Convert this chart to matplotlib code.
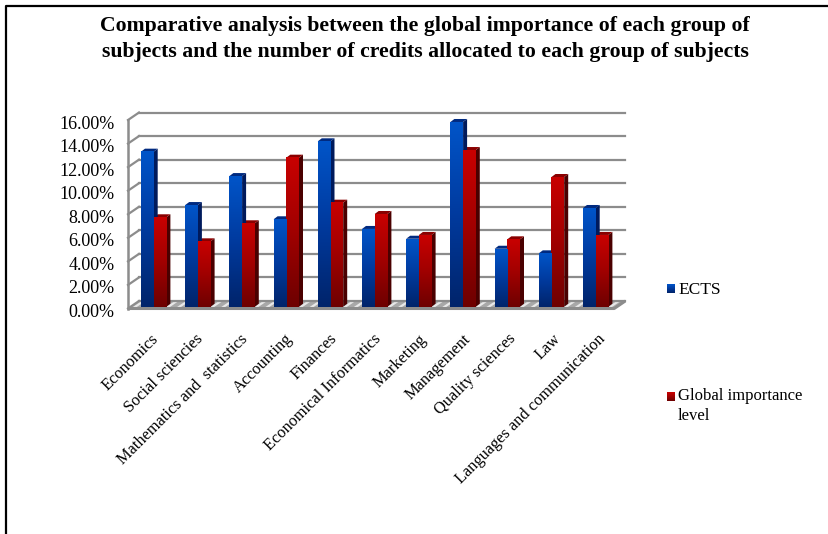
import numpy as np
import matplotlib
matplotlib.use('Agg')
import matplotlib.pyplot as plt
from matplotlib.colors import LinearSegmentedColormap
from matplotlib.patches import Polygon
from matplotlib.transforms import ScaledTranslation

categories = ['Economics', 'Social sciencies', 'Mathematics and  statistics', 'Accounting',
              'Finances', 'Economical Informatics', 'Marketing', 'Management',
              'Quality sciences', 'Law', 'Languages and communication']
ects = [13.16, 8.63, 11.09, 7.42, 14.04, 6.60, 5.77, 15.68, 4.92, 4.53, 8.38]
importance = [7.59, 5.55, 7.08, 12.65, 8.83, 7.87, 6.09, 13.30, 5.72, 11.01, 6.09]
y_ticks = [0, 2, 4, 6, 8, 10, 12, 14, 16]

plt.rcParams['font.family'] = ['Liberation Serif', 'DejaVu Serif']

W, H = 829, 534
PX_X = 44.2    # pixels per category
PX_Y = 11.78   # pixels per percent
DEPTH_X = 11 / PX_X
DEPTH_Y = 7.5 / PX_Y
BAR_W = 12.7 / PX_X
SIDE_X = 4 / PX_X
SIDE_Y = 3 / PX_Y
LIFT = 1.8 / PX_Y
GRID = '#8c8c8c'

blue_map = LinearSegmentedColormap.from_list('b', ['#00246b', '#003a9e', '#0054c8'])
red_map = LinearSegmentedColormap.from_list('r', ['#6e0000', '#a00000', '#c80000'])

fig = plt.figure(figsize=(W / 100, H / 100), dpi=100)
left = 128 / W
bottom = (H - 308.5) / H
ax = fig.add_axes([left, bottom, 11 * PX_X / W, 16 * PX_Y / H])
ax.set_xlim(-0.5, 10.5)
ax.set_ylim(0, 16)
ax.patch.set_visible(False)
for s in ax.spines.values():
    s.set_visible(False)


def draw_bar(x, val, cmap, side, top):
    y0 = LIFT
    y1 = LIFT + val
    grad = np.linspace(1, 0, 64).reshape(-1, 1)
    ax.imshow(grad, cmap=cmap, extent=[x, x + BAR_W, y0, y1], aspect='auto',
              vmin=0, vmax=1, zorder=5, interpolation='bilinear', clip_on=False)
    ax.add_patch(Polygon([(x + BAR_W, y0), (x + BAR_W + SIDE_X, y0 + SIDE_Y),
                          (x + BAR_W + SIDE_X, y1 + SIDE_Y), (x + BAR_W, y1)],
                         fc=side, ec='none', zorder=4, clip_on=False))
    ax.add_patch(Polygon([(x, y1), (x + SIDE_X, y1 + SIDE_Y),
                          (x + BAR_W + SIDE_X, y1 + SIDE_Y), (x + BAR_W, y1)],
                         fc=top, ec='none', zorder=4, clip_on=False))


def legend_swatch(px, py, cmap):
    sw = fig.add_axes([px / W, (H - py - 9) / H, 8 / W, 9 / H])
    sw.imshow(np.linspace(1, 0, 16).reshape(-1, 1), cmap=cmap, aspect='auto', vmin=0, vmax=1)
    sw.axis('off')


# floor slab with its diagonal sheen
ax.add_patch(Polygon([(-0.5, 0), (-0.5 + DEPTH_X, DEPTH_Y), (10.5 + DEPTH_X, DEPTH_Y), (10.5, 0)],
                     fc='#a8a8a8', ec='none', zorder=1, clip_on=False))
for i in range(len(categories) * 4):
    xa = -0.5 + i * 0.25 + 0.06
    ax.add_patch(Polygon([(xa, 0), (xa + DEPTH_X, DEPTH_Y), (xa + DEPTH_X + 0.09, DEPTH_Y), (xa + 0.09, 0)],
                         fc='#e8e8e8', ec='none', zorder=1, clip_on=False))
ax.plot([-0.5, 10.5, 10.5 + DEPTH_X], [0, 0, DEPTH_Y], color=GRID, lw=2.2, zorder=2,
        clip_on=False, solid_capstyle='butt')

# back wall gridlines and the left wall
for t in y_ticks:
    ax.plot([-0.5, -0.5 + DEPTH_X], [t, t + DEPTH_Y], color=GRID, lw=1.6, zorder=2, clip_on=False)
    ax.plot([-0.5 + DEPTH_X, 10.5 + DEPTH_X], [t + DEPTH_Y, t + DEPTH_Y], color=GRID, lw=1.6,
            zorder=2, clip_on=False)
ax.plot([-0.5, -0.5], [0, 16], color=GRID, lw=1.8, zorder=2, clip_on=False)

# bars, blue one in front of the red side faces of its neighbour
for i in range(len(categories)):
    x = i - 0.206
    draw_bar(x + BAR_W, importance[i], red_map, '#4a0000', '#8a0000')
    draw_bar(x, ects[i], blue_map, '#001a5c', '#002a80')

ax.set_xlim(-0.5, 10.5)
ax.set_ylim(0, 16)
ax.set_yticks(y_ticks)
ax.set_yticklabels(['%.2f%%' % t for t in y_ticks], fontsize=13, color='black')
ax.tick_params(axis='y', length=0, pad=9.5)
shift = ScaledTranslation(0, -2 / 100, fig.dpi_scale_trans)
for lab in ax.get_yticklabels():
    lab.set_transform(lab.get_transform() + shift)
ax.set_xticks(range(len(categories)))
ax.set_xticklabels([])
ax.tick_params(axis='x', length=0)

# category labels slanted up to the right, ending just under each group
for i, name in enumerate(categories):
    fig.text((150 + i * 44.7) / W, (H - 331) / H, name, rotation=45, rotation_mode='anchor',
             ha='right', va='top', fontsize=11.8, color='black')

fig.text(425 / W, (H - 39) / H,
         'Comparative analysis between the global importance of each group of\n'
         'subjects and the number of credits allocated to each group of subjects',
         ha='center', va='center', fontsize=15.7, fontweight='bold', linespacing=1.35)

# legend
legend_swatch(667, 284, blue_map)
fig.text(678 / W, (H - 290) / H, 'ECTS', ha='left', va='center', fontsize=12.5)
legend_swatch(667, 392, red_map)
fig.text(678 / W, (H - 406) / H, 'Global importance\nlevel', ha='left', va='center', fontsize=12,
         linespacing=1.25)

# outer frame along the left and top edges
fig.add_artist(plt.Line2D([6.5 / W, 6.5 / W, 1], [0, (H - 5.5) / H, (H - 5.5) / H], color='black', lw=1.6))

fig.savefig('out.png', dpi=100)
